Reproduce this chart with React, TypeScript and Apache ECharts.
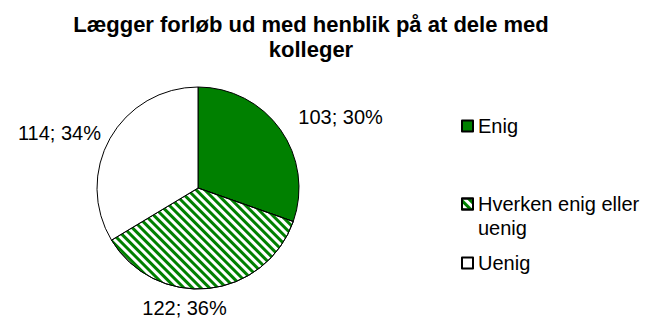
import React, { useEffect, useRef } from "react";
import * as echarts from "echarts";

const titleText = "Lægger forløb ud med henblik på at dele med\nkolleger";
const categories = ["Enig", "Hverken enig eller uenig", "Uenig"];
// the leading blank line keeps the legend swatch level with the first text line
const legendLabels = ["Enig", "\nHverken enig eller\nuenig", "Uenig"];
const counts = [103, 122, 114];

const GREEN = "#008000";
const FONT = "'Liberation Sans', Arial, sans-serif";

export default function App() {
  const ref = useRef<HTMLDivElement>(null);

  useEffect(() => {
    if (!ref.current) return;
    const chart = echarts.init(ref.current, null, { renderer: "svg" });
    const total = counts.reduce((a, b) => a + b, 0);

    // diagonal green hatching for the neutral answer
    const stripes = {
      symbol: "rect",
      symbolSize: 1,
      color: GREEN,
      dashArrayX: [1, 0],
      dashArrayY: [3, 3],
      rotation: Math.PI / 4,
    };

    const styles = [
      { color: GREEN },
      { color: "#ffffff", decal: stripes },
      { color: "#ffffff" },
    ];

    const data = categories.map((name, i) => ({
      name,
      value: counts[i],
      itemStyle: styles[i],
    }));

    // one legend block per entry so each can sit at its own height
    const legendTops = [114, 168, 251];

    chart.setOption({
      animation: false,
      backgroundColor: "#ffffff",
      title: {
        text: titleText,
        left: 306,
        top: 7,
        textAlign: "center",
        textStyle: {
          fontFamily: FONT,
          fontWeight: "bold",
          fontSize: 22,
          lineHeight: 25,
          color: "#000",
        },
      },
      legend: categories.map((name, i) => ({
        data: [name],
        orient: "vertical",
        left: 461,
        top: legendTops[i],
        padding: 0,
        itemWidth: 11,
        itemHeight: 11,
        itemGap: 0,
        icon: "rect",
        selectedMode: false,
        formatter: () => legendLabels[i],
        textStyle: {
          fontFamily: FONT,
          fontSize: 20,
          lineHeight: 24,
          color: "#000",
        },
      })),
      series: [
        {
          type: "pie",
          center: [198, 188],
          radius: 101,
          startAngle: 90,
          clockwise: true,
          data,
          itemStyle: { borderColor: "#000", borderWidth: 1 },
          emphasis: { disabled: true },
          label: {
            show: true,
            position: "outside",
            distanceToLabelLine: 0,
            overflow: "none",
            fontFamily: FONT,
            fontSize: 20,
            lineHeight: 20,
            color: "#000",
            formatter: (p: any) =>
              `${p.value}; ${Math.round((p.value / total) * 100)}%`,
          },
          labelLine: { show: false, length: 22, length2: 0 },
          labelLayout: (p: any) => {
            if (p.dataIndex === 1) return { align: "center", dx: -26, dy: -1 };
            if (p.dataIndex === 2) return { dx: 10, dy: 6 };
            return {};
          },
        },
      ],
    });

    return () => chart.dispose();
  }, []);

  return (
    <div
      ref={ref}
      style={{ position: "absolute", left: 0, top: 0, width: 660, height: 320 }}
    />
  );
}
